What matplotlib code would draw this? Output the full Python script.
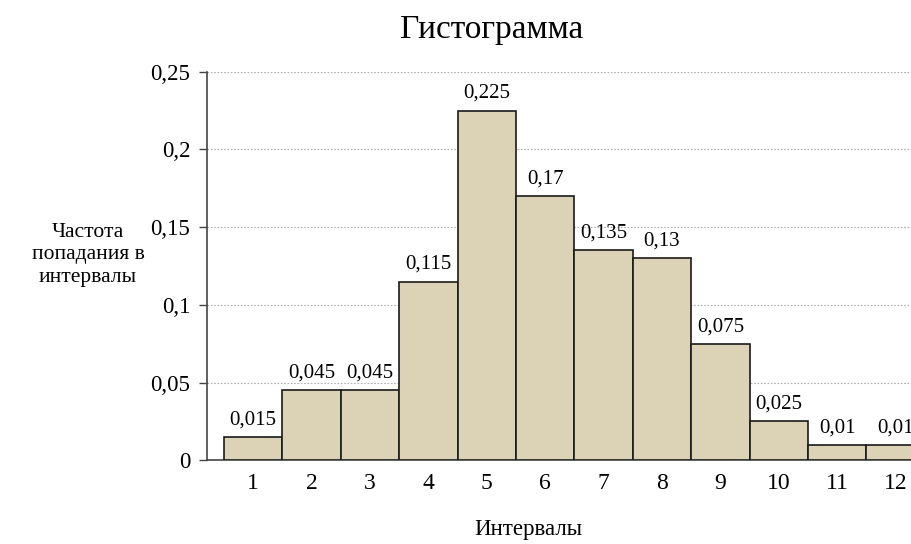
import matplotlib
matplotlib.use("Agg")
import matplotlib.pyplot as plt

plt.rcParams["font.family"] = ["Liberation Serif", "DejaVu Serif"]

# histogram data
intervals = [1, 2, 3, 4, 5, 6, 7, 8, 9, 10, 11, 12]
freq = [0.015, 0.045, 0.045, 0.115, 0.225, 0.17, 0.135, 0.13, 0.075, 0.025, 0.01, 0.01]
value_labels = ["0,015", "0,045", "0,045", "0,115", "0,225", "0,17", "0,135", "0,13",
                "0,075", "0,025", "0,01", "0,01"]
y_ticks = [0, 0.05, 0.1, 0.15, 0.2, 0.25]
y_tick_labels = ["0", "0,05", "0,1", "0,15", "0,2", "0,25"]

fig = plt.figure(figsize=(9.12, 5.44), dpi=100)
ax = fig.add_axes([0.227, 0.154, 0.787, 0.714])

ax.bar(intervals, freq, width=1.0, color="#DCD2B6", edgecolor="#1a1a1a", linewidth=1.2, zorder=3)

for x, v, lab in zip(intervals, freq, value_labels):
    ax.annotate(lab, (x, v), xytext=(0, 5.5), textcoords="offset points",
                ha="center", va="bottom", fontsize=15)

ax.set_xlim(0.21, 12.5)
ax.set_ylim(0, 0.25)
ax.set_xticks(intervals)
ax.set_xticklabels([str(i) for i in intervals], fontsize=17)
ax.set_yticks(y_ticks)
ax.set_yticklabels(y_tick_labels, fontsize=16.5)
ax.tick_params(axis="x", length=0, pad=9)
ax.tick_params(axis="y", length=6, width=1, color="#444444", pad=6)

ax.yaxis.grid(True, linestyle=(0, (1.5, 1.5)), color="#b0b0b0", linewidth=0.8, zorder=0)
ax.set_axisbelow(True)

for side in ["top", "right"]:
    ax.spines[side].set_visible(False)
ax.spines["left"].set_color("#444444")
ax.spines["bottom"].set_color("#444444")
ax.spines["left"].set_linewidth(1.2)
ax.spines["bottom"].set_linewidth(1.2)

fig.text(492 / 912, 1 - 30 / 544, "Гистограмма", ha="center", va="center", fontsize=24)
fig.text(88 / 912, 1 - 255 / 544, "Частота\nпопадания в\nинтервалы", ha="center", va="center",
         fontsize=15.5, linespacing=1.25)
fig.text(528 / 912, 1 - 530 / 544, "Интервалы", ha="center", va="center", fontsize=16.5)

fig.savefig("out.png", dpi=100)
